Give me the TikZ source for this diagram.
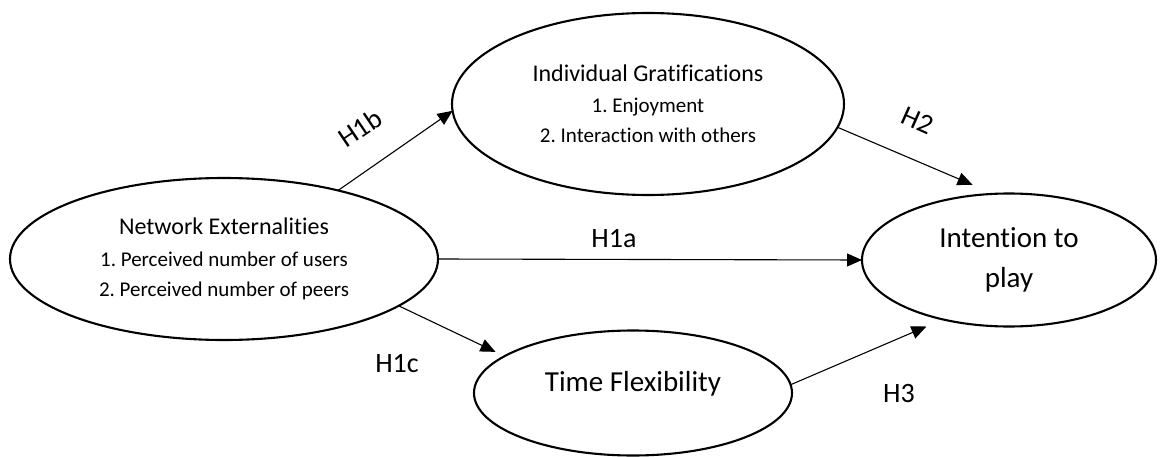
\documentclass[tikz,border=0pt]{standalone}
\usepackage{fontspec}
\setmainfont{Carlito}[Ligatures={NoCommon}]
\frenchspacing
\usetikzlibrary{shapes.geometric,arrows.meta}
\begin{document}
\begin{tikzpicture}[x=1pt,y=-1pt,
  ell/.style={ellipse,draw,line width=2.1pt,inner sep=2pt,outer sep=0pt,align=center},
  conn/.style={line width=1.1pt,-{Triangle[length=15pt,width=13pt]}},
  hlab/.style={font=\fontsize{28}{34}\selectfont,inner sep=0pt}]
\useasboundingbox (0,0) rectangle (1161,457);
\node[ell,minimum width=428pt,minimum height=162pt,font=\fontsize{21}{30}\selectfont] (ne) at (224,259)
  {{\fontsize{24}{32}\selectfont Network Externalities}\\[2pt] 1. Perceived number of users\\ 2. Perceived number of peers};
\node[ell,minimum width=392pt,minimum height=182pt,font=\fontsize{21}{30}\selectfont] (ig) at (648,104)
  {{\fontsize{24}{32}\selectfont Individual Gratifications}\\[1pt] 1. Enjoyment\\ 2. Interaction with others};
\node[ell,minimum width=294pt,minimum height=133pt,font=\fontsize{29}{40}\selectfont] (ip) at (1009,260)
  {Intention to\\ play};
\node[ell,minimum width=318pt,minimum height=125pt,font=\fontsize{29}{36}\selectfont,text height=12pt,text depth=16pt] (tf) at (633,393)
  {Time Flexibility};
\draw[conn] (ne.31) -- (ig.182);
\draw[conn,shorten >=23pt] (ig.-7) -- (ip.103.7);
\draw[conn] (ne.east) -- (ip.west);
\draw[conn,shorten >=10pt] (ne.-15) -- (tf.164.2);
\draw[conn,shorten >=18pt] (tf.3.6) -- (ip.222);
\node[hlab,rotate=34] (l1b) at (360,128) {H1b};
\node[hlab,rotate=-24] (l2) at (918,121) {H2};
\node[hlab,anchor=base] (l1a) at (614,247) {H1a};
\node[hlab,anchor=base] (l1c) at (397,372) {H1c};
\node[hlab,anchor=base] (l3) at (899,402) {H3};
\end{tikzpicture}
\end{document}
